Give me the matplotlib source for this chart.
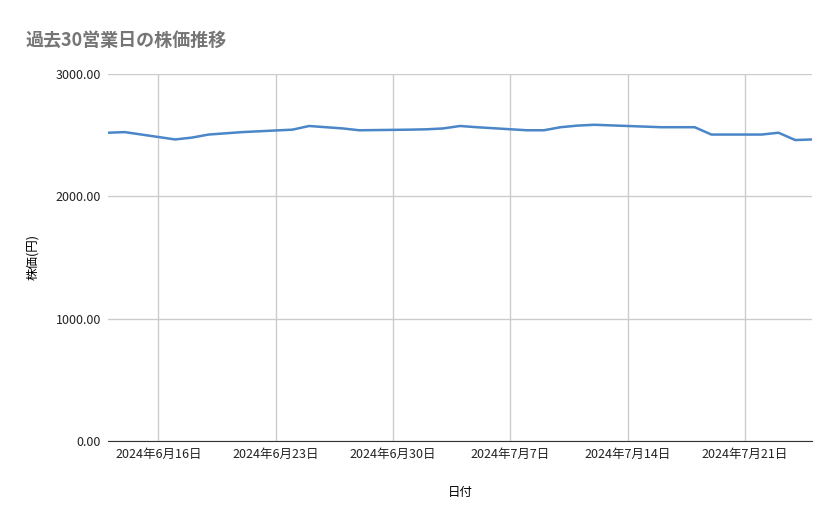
import numpy as np
import pandas as pd
import matplotlib
matplotlib.use("Agg")
import matplotlib.pyplot as plt
import matplotlib.dates as mdates

plt.rcParams['font.family'] = ['Noto Sans CJK JP', 'DejaVu Sans']

dates = ["2024-06-13", "2024-06-14", "2024-06-17", "2024-06-18", "2024-06-19", "2024-06-20",
         "2024-06-21", "2024-06-24", "2024-06-25", "2024-06-26", "2024-06-27", "2024-06-28",
         "2024-07-01", "2024-07-02", "2024-07-03", "2024-07-04", "2024-07-05", "2024-07-08",
         "2024-07-09", "2024-07-10", "2024-07-11", "2024-07-12", "2024-07-15", "2024-07-16",
         "2024-07-17", "2024-07-18", "2024-07-19", "2024-07-22", "2024-07-23", "2024-07-24",
         "2024-07-25"]
prices = [2520, 2525, 2465, 2480, 2505, 2515, 2525, 2545, 2575, 2565, 2555, 2540,
          2545, 2548, 2555, 2575, 2565, 2540, 2540, 2565, 2578, 2585, 2570, 2565,
          2565, 2565, 2505, 2505, 2520, 2460, 2465]
tick_dates = ["2024-06-16", "2024-06-23", "2024-06-30", "2024-07-07", "2024-07-14", "2024-07-21"]
y_ticks = [0, 1000, 2000, 3000]

x = pd.to_datetime(dates)
xt = pd.to_datetime(tick_dates)

fig = plt.figure(figsize=(8.39, 5.19), dpi=100)
ax = fig.add_axes([108/839, 1 - 441/519, (812-108)/839, (441-74)/519])
ax.plot(x, prices, color="#4a86c8", lw=1.8)
ax.set_xlim(x[0], x[-1])
ax.set_ylim(0, 3000)
ax.set_yticks(y_ticks)
ax.set_yticklabels([f"{v:.2f}" for v in y_ticks])
ax.set_xticks(xt)
ax.set_xticklabels([f"{d.year}年{d.month}月{d.day}日" for d in xt])
ax.grid(True, color="#cccccc", lw=1)
ax.tick_params(length=0, labelsize=9, colors="#222222", pad=5)
for s in ["top", "right", "left"]:
    ax.spines[s].set_visible(False)
ax.spines["bottom"].set_color("#333333")
ax.set_ylabel("株価(円)", fontsize=9, labelpad=12)
ax.set_xlabel("日付", fontsize=9, labelpad=18)
fig.text(25/839, 1 - 40/519, "過去30営業日の株価推移", fontsize=13, color="#757575",
         va="center", fontweight="bold")
fig.savefig("out.png", dpi=100)
